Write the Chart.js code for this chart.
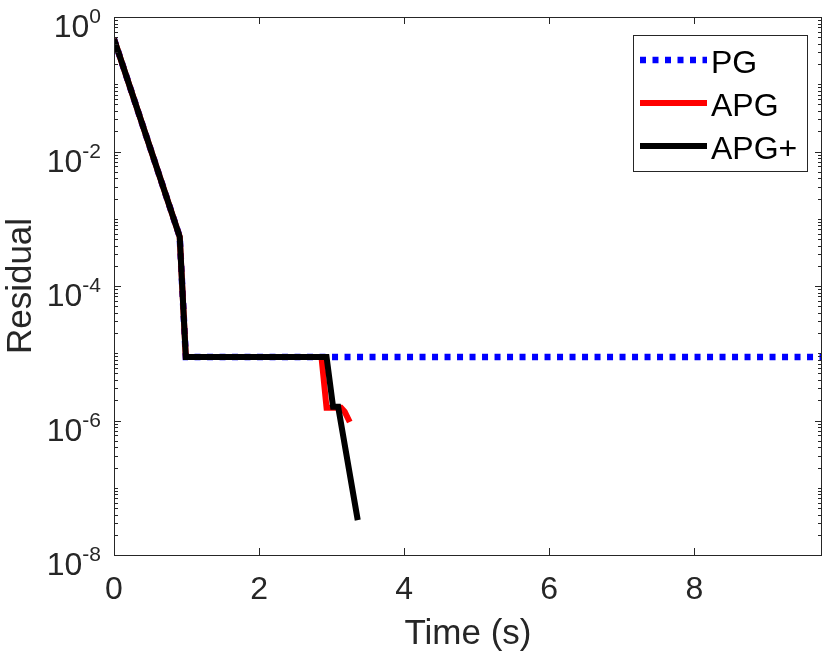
<!DOCTYPE html>
<html lang="en">
<head>
<meta charset="UTF-8">
<title>Residual vs time</title>
<script src="https://cdn.jsdelivr.net/npm/chart.js"></script>
<style>
  body { margin: 0; background: #fff; }
  #wrap { width: 830px; height: 657px; }
</style>
</head>
<body>
<div id="wrap"><canvas id="resChart" width="830" height="657"></canvas></div>
<script>
// values (time in s, residual)
const seriesNames = ['PG', 'APG', 'APG+'];
const pgTime = [0, 0.906, 0.99, 9.76];
const pgResidual = [0.471, 5.4e-4, 8.8e-6, 8.8e-6];
const apgTime = [0, 0.906, 0.99, 2.86, 2.93, 3.13, 3.18, 3.25];
const apgResidual = [0.471, 5.4e-4, 8.8e-6, 8.8e-6, 1.55e-6, 1.55e-6, 1.35e-6, 9.5e-7];
const apgPlusTime = [0, 0.906, 0.99, 2.93, 3.02, 3.09, 3.36];
const apgPlusResidual = [0.471, 5.4e-4, 8.8e-6, 8.8e-6, 1.6e-6, 1.6e-6, 3.3e-8];
const xTicks = [0, 2, 4, 6, 8];
const yTickExponents = [0, -2, -4, -6, -8];

const FONT = "'Liberation Sans', Arial, Helvetica, sans-serif";
const INK = '#262626';

function toPoints(xs, ys) {
    return xs.map((t, i) => ({ x: t, y: ys[i] }));
}

// box, inward ticks, 10^n labels and legend, drawn the MATLAB way
const matlabAxes = {
    id: 'matlabAxes',
    afterDatasetsDraw(chart) {
        const { ctx, chartArea: a, scales: { x, y } } = chart;
        ctx.save();
        ctx.strokeStyle = INK;
        ctx.lineWidth = 1;
        ctx.beginPath();
        xTicks.forEach(v => {
            const px = Math.round(x.getPixelForValue(v)) + 0.5;
            ctx.moveTo(px, a.bottom); ctx.lineTo(px, a.bottom - 7);
            ctx.moveTo(px, a.top); ctx.lineTo(px, a.top + 7);
        });
        for (let e = -8; e <= 0; e++) {
            for (let m = 1; m <= 9; m++) {
                const v = m * Math.pow(10, e);
                if (v > 1) break;
                const len = (m === 1 && e % 2 === 0) ? 7 : 4;
                const py = Math.round(y.getPixelForValue(v)) + 0.5;
                ctx.moveTo(a.left, py); ctx.lineTo(a.left + len, py);
                ctx.moveTo(a.right, py); ctx.lineTo(a.right - len, py);
            }
        }
        ctx.stroke();
        ctx.strokeRect(Math.round(a.left) + 0.5, Math.round(a.top) + 0.5,
            Math.round(a.right - a.left) - 1, Math.round(a.bottom - a.top));

        // y tick labels with superscript exponent
        ctx.fillStyle = INK;
        ctx.textAlign = 'left';
        ctx.textBaseline = 'alphabetic';
        yTickExponents.forEach(e => {
            const py = y.getPixelForValue(Math.pow(10, e));
            const exp = e === 0 ? '0' : '-' + Math.abs(e);
            ctx.font = '21px ' + FONT;
            const we = ctx.measureText(exp).width;
            ctx.font = '32px ' + FONT;
            const wb = ctx.measureText('10').width;
            const right = a.left - 13;
            ctx.fillText('10', right - we - wb, py + 20);
            ctx.font = '21px ' + FONT;
            ctx.fillText(exp, right - we, py + 6);
        });
        ctx.restore();
    },
    afterDraw(chart) {
        const { ctx } = chart;
        const box = { l: 633, t: 35, r: 807, b: 171 };
        ctx.save();
        ctx.fillStyle = '#fff';
        ctx.fillRect(box.l, box.t, box.r - box.l, box.b - box.t);
        ctx.strokeStyle = INK;
        ctx.lineWidth = 1;
        ctx.strokeRect(box.l + 0.5, box.t + 0.5, box.r - box.l, box.b - box.t);
        chart.data.datasets.forEach((ds, i) => {
            const yy = 60 + i * 43;
            ctx.beginPath();
            ctx.strokeStyle = ds.borderColor;
            ctx.lineWidth = ds.borderWidth;
            ctx.setLineDash(ds.borderDash || []);
            ctx.moveTo(640, yy);
            ctx.lineTo(707, yy);
            ctx.stroke();
            ctx.setLineDash([]);
            ctx.fillStyle = '#000';
            ctx.font = '32px ' + FONT;
            ctx.textBaseline = 'alphabetic';
            ctx.fillText(ds.label, 711, yy + 13);
        });
        ctx.restore();
    }
};

const chart = new Chart(document.getElementById('resChart').getContext('2d'), {
    type: 'line',
    data: {
        datasets: [
            { label: seriesNames[0], data: toPoints(pgTime, pgResidual), borderColor: '#0000ff',
              borderWidth: 6.5, borderDash: [6, 6.5], order: 3 },
            { label: seriesNames[1], data: toPoints(apgTime, apgResidual), borderColor: '#ff0000',
              borderWidth: 6, order: 2 },
            { label: seriesNames[2], data: toPoints(apgPlusTime, apgPlusResidual), borderColor: '#000000',
              borderWidth: 6, order: 1 }
        ]
    },
    options: {
        responsive: false,
        animation: false,
        devicePixelRatio: 1,
        layout: { padding: { top: 17, right: 8, left: 0, bottom: 0 } },
        elements: { point: { radius: 0 }, line: { tension: 0, borderJoinStyle: 'miter' } },
        plugins: { legend: { display: false }, tooltip: { enabled: false } },
        scales: {
            x: {
                type: 'linear', min: 0, max: 9.76,
                grid: { display: false, drawTicks: false },
                border: { display: false },
                afterBuildTicks: s => { s.ticks = xTicks.map(v => ({ value: v })); },
                ticks: { font: { family: FONT, size: 32 }, color: INK, padding: 16, maxRotation: 0, autoSkip: false },
                title: { display: true, text: 'Time (s)', font: { family: FONT, size: 35 }, color: INK, padding: { top: 0, bottom: 2 } },
                afterFit: s => { s.height = 102; }
            },
            y: {
                type: 'logarithmic', min: 1e-8, max: 1,
                grid: { display: false, drawTicks: false },
                border: { display: false },
                ticks: { display: false },
                title: { display: true, text: 'Residual', font: { family: FONT, size: 35 }, color: INK, padding: 0 },
                afterFit: s => { s.width = 114; }
            }
        }
    },
    plugins: [matlabAxes]
});
</script>
</body>
</html>
